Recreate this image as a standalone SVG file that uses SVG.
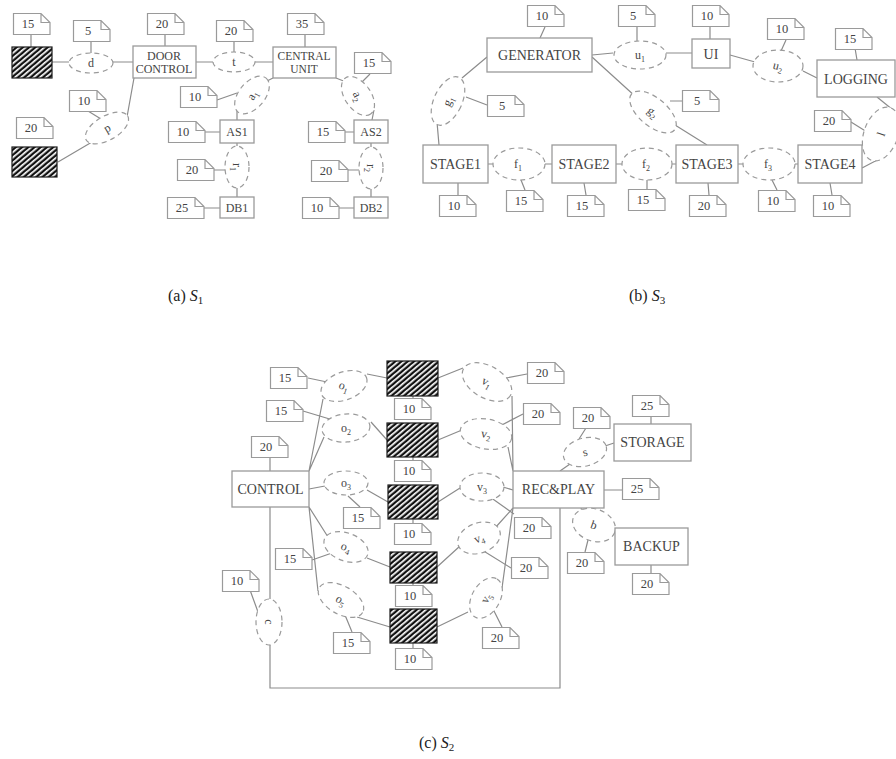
<svg xmlns="http://www.w3.org/2000/svg" width="896" height="759" viewBox="0 0 896 759">
<style>
.box{fill:#fff;stroke:#9a9a9a;stroke-width:1.3}
.hat{fill:url(#hatch);stroke:#1a1a1a;stroke-width:1.2}
.nt{fill:#fff;stroke:#9a9a9a;stroke-width:1.2;stroke-linejoin:miter}
.ell{fill:#fff;stroke:#9a9a9a;stroke-width:1.2;stroke-dasharray:5 4}
.ln{stroke:#8c8c8c;stroke-width:1.2;fill:none}
.t{font-family:"Liberation Serif","Times New Roman",serif;fill:#444;text-anchor:middle}
.n{font-size:12.5px}
.b14{font-size:14px}
.b12{font-size:12px}
.e{font-size:12px}
.cap{font-family:"Liberation Serif","Times New Roman",serif;font-size:16px;fill:#222}
</style>
<defs>
<pattern id="hatch" width="4" height="4" patternUnits="userSpaceOnUse" patternTransform="rotate(-40)">
<rect width="4" height="4" fill="#111"/><rect width="4" height="1.7" fill="#fff"/>
</pattern>
<symbol id="note" width="38" height="22" viewBox="0 0 38 22" overflow="visible">
<path class="nt" d="M0.5 0.5H28L37 9.5V21.5H0.5Z M28 0.5V9.5H37"/>
</symbol>
</defs>
<rect width="896" height="759" fill="#fff"/>

<!-- ================= connectors ================= -->
<g id="connectors" class="ln">
<!-- (a) -->
<path d="M31 34V47 M52 62H69 M113 62H133 M91 41V53 M196 62H213 M255 62H273 M234 41V52 M165 33V46 M305 34V47"/>
<path d="M134 78L127 117 M88 111L101 119 M58 162L92 142"/>
<path d="M273 78L265 82 M217 100L237 93 M237 110V120 M205 132H220 M237 143V146 M214 170H225 M237 188V197 M204 208H220"/>
<path d="M336 78L346 82 M370 74L361 83 M374 110L372 120 M345 132H354 M371 143V147 M348 170H359 M371 189V197 M339 208H354"/>
<!-- (b) -->
<path d="M545 27L540 38 M592 55L613 53 M637 27V41 M710 27V39 M666 53H692 M730 55L755 62 M786 40L781 51 M803 71L817 78 M855 48L857 60"/>
<path d="M487 57L462 78 M466 97L487 105 M437 122L439 145 M592 57L636 97 M670 101L682 101 M675 125L707 145"/>
<path d="M877 97L893 110 M851 122L867 132 M862 168L883 157"/>
<path d="M488 164H493 M545 164H552 M616 164H622 M672 164H676 M738 164H743 M795 164H798"/>
<path d="M458 183V195 M521 180L525 190 M584 183L586 195 M647 180V189 M708 183L709 195 M772 180L777 190 M830 183L832 195"/>
<!-- (c) -->
<path d="M309 471L323 399 M309 471L324 437 M308 378L327 382 M303 411L333 420 M367 374L387 378 M371 422L387 440"/>
<path d="M309 489L325 486 M348 496L360 507 M367 490L388 502 M309 507L328 537 M309 507L318 591 M312 560L332 553 M367 558L390 567"/>
<path d="M345 615L352 632 M357 617L390 627 M270 457V471 M270 507V599 M250 590L258 612 M270 645V688H560V508"/>
<path d="M413 396V398 M413 457V460 M413 519V523 M413 583V585 M413 643V648"/>
<path d="M438 378L463 368 M506 378L527 374 M512 396L513 471 M438 440L462 430 M498 427L523 414 M508 447L513 471"/>
<path d="M438 502L460 488 M503 487L513 490 M490 497L514 514 M437 567L460 546 M495 528L513 508 M482 550L511 568"/>
<path d="M437 627L468 612 M502 588L513 508 M493 609L502 627 M604 490H622"/>
<path d="M560 471L570 464 M605 446L614 443 M586 428L579 439 M651 417V424 M581 508L582 511 M615 531V534 M588 540L585 552 M651 565V573"/>
</g>

<!-- ================= (a) S1 ================= -->
<g id="a_actor1"><rect class="hat" x="12" y="47" width="40" height="31"/></g>
<g id="a_n15"><use href="#note" x="13" y="13"/><text class="t n" x="28" y="28">15</text></g>
<g id="a_d"><ellipse class="ell" cx="91" cy="63" rx="22" ry="10"/><text class="t e" x="91" y="67">d</text></g>
<g id="a_n5"><use href="#note" x="73" y="20"/><text class="t n" x="88" y="35">5</text></g>
<g id="a_door"><rect class="box" x="133" y="46" width="63" height="32"/><text class="t b12" x="164" y="60">DOOR</text><text class="t b12" x="164" y="73">CONTROL</text></g>
<g id="a_n20a"><use href="#note" x="147" y="13"/><text class="t n" x="162" y="28">20</text></g>
<g id="a_t"><ellipse class="ell" cx="234" cy="62" rx="21" ry="10"/><text class="t e" x="234" y="66">t</text></g>
<g id="a_n20b"><use href="#note" x="216" y="20"/><text class="t n" x="231" y="35">20</text></g>
<g id="a_central"><rect class="box" x="273" y="47" width="63" height="31"/><text class="t" style="font-size:11.5px" x="304" y="60">CENTRAL</text><text class="t" style="font-size:11.5px" x="304" y="73">UNIT</text></g>
<g id="a_n35"><use href="#note" x="287" y="13"/><text class="t n" x="302" y="28">35</text></g>
<g id="a_p"><ellipse class="ell" cx="107" cy="128" rx="24" ry="12" transform="rotate(-30 107 128)"/><text class="t e" x="107" y="132" transform="rotate(-30 107 128)">p</text></g>
<g id="a_n10p"><use href="#note" x="69" y="90"/><text class="t n" x="84" y="105">10</text></g>
<g id="a_n20c"><use href="#note" x="16" y="117"/><text class="t n" x="31" y="132">20</text></g>
<g id="a_actor2"><rect class="hat" x="12" y="147" width="45" height="30"/></g>
<g id="a_a1"><ellipse class="ell" cx="252" cy="95" rx="22" ry="13" transform="rotate(-50 252 95)"/><text class="t e" x="252" y="99" transform="rotate(-60 252 95)">a<tspan font-size="8" dy="3">1</tspan></text></g>
<g id="a_n10a1"><use href="#note" x="180" y="86"/><text class="t n" x="195" y="101">10</text></g>
<g id="a_as1"><rect class="box" x="220" y="120" width="34" height="23"/><text class="t b12" x="237" y="136">AS1</text></g>
<g id="a_n10as1"><use href="#note" x="168" y="121"/><text class="t n" x="183" y="136">10</text></g>
<g id="a_r1"><ellipse class="ell" cx="237" cy="167" rx="12" ry="21"/><text class="t e" x="237" y="171" transform="rotate(90 237 167)">r<tspan font-size="8" dy="3">1</tspan></text></g>
<g id="a_n20r1"><use href="#note" x="177" y="159"/><text class="t n" x="192" y="174">20</text></g>
<g id="a_db1"><rect class="box" x="220" y="197" width="34" height="21"/><text class="t b12" x="237" y="212">DB1</text></g>
<g id="a_n25"><use href="#note" x="167" y="197"/><text class="t n" x="182" y="212">25</text></g>
<g id="a_a2"><ellipse class="ell" cx="358" cy="96" rx="22" ry="13" transform="rotate(55 358 96)"/><text class="t e" x="358" y="100" transform="rotate(65 358 96)">a<tspan font-size="8" dy="3">2</tspan></text></g>
<g id="a_n15a2"><use href="#note" x="354" y="52"/><text class="t n" x="369" y="67">15</text></g>
<g id="a_as2"><rect class="box" x="354" y="120" width="34" height="23"/><text class="t b12" x="371" y="136">AS2</text></g>
<g id="a_n15as2"><use href="#note" x="308" y="121"/><text class="t n" x="323" y="136">15</text></g>
<g id="a_r2"><ellipse class="ell" cx="371" cy="168" rx="12" ry="21"/><text class="t e" x="371" y="172" transform="rotate(90 371 168)">r<tspan font-size="8" dy="3">2</tspan></text></g>
<g id="a_n20r2"><use href="#note" x="311" y="160"/><text class="t n" x="326" y="175">20</text></g>
<g id="a_db2"><rect class="box" x="354" y="197" width="34" height="21"/><text class="t b12" x="371" y="212">DB2</text></g>
<g id="a_n10db2"><use href="#note" x="302" y="197"/><text class="t n" x="317" y="212">10</text></g>
<text class="cap" x="168" y="301">(a) <tspan font-style="italic">S</tspan><tspan font-size="11" dy="3">1</tspan></text>

<!-- ================= (b) S3 ================= -->
<g id="b_gen"><rect class="box" x="487" y="38" width="105" height="34"/><text class="t b14" x="539.5" y="60">GENERATOR</text></g>
<g id="b_n10g"><use href="#note" x="527" y="5"/><text class="t n" x="542" y="20">10</text></g>
<g id="b_u1"><ellipse class="ell" cx="640" cy="55" rx="26" ry="14"/><text class="t e" x="640" y="59">u<tspan font-size="8" dy="3">1</tspan></text></g>
<g id="b_n5u"><use href="#note" x="618" y="5"/><text class="t n" x="633" y="20">5</text></g>
<g id="b_ui"><rect class="box" x="692" y="39" width="38" height="29"/><text class="t b14" x="711" y="59">UI</text></g>
<g id="b_n10ui"><use href="#note" x="692" y="5"/><text class="t n" x="707" y="20">10</text></g>
<g id="b_u2"><ellipse class="ell" cx="778" cy="66" rx="25" ry="16"/><text class="t e" x="778" y="70" transform="rotate(15 778 66)">u<tspan font-size="8" dy="3">2</tspan></text></g>
<g id="b_n10u2"><use href="#note" x="767" y="18"/><text class="t n" x="782" y="33">10</text></g>
<g id="b_log"><rect class="box" x="817" y="60" width="78" height="37"/><text class="t b14" x="856" y="84">LOGGING</text></g>
<g id="b_n15l"><use href="#note" x="835" y="28"/><text class="t n" x="850" y="43">15</text></g>
<g id="b_l"><ellipse class="ell" cx="881" cy="134" rx="17" ry="28" transform="rotate(20 881 134)"/><text class="t e" x="881" y="138" transform="rotate(-70 881 134)">l</text></g>
<g id="b_n20l"><use href="#note" x="814" y="110"/><text class="t n" x="829" y="125">20</text></g>
<g id="b_g1"><ellipse class="ell" cx="448" cy="101" rx="14" ry="26" transform="rotate(25 448 101)"/><text class="t e" x="448" y="105" transform="rotate(-65 448 101)">g<tspan font-size="8" dy="3">1</tspan></text></g>
<g id="b_n5g1"><use href="#note" x="487" y="95"/><text class="t n" x="502" y="110">5</text></g>
<g id="b_g2"><ellipse class="ell" cx="653" cy="112" rx="28" ry="14" transform="rotate(40 653 112)"/><text class="t e" x="653" y="116" transform="rotate(40 653 112)">g<tspan font-size="8" dy="3">2</tspan></text></g>
<g id="b_n5g2"><use href="#note" x="682" y="90"/><text class="t n" x="697" y="105">5</text></g>
<g id="b_s1"><rect class="box" x="423" y="145" width="65" height="38"/><text class="t b14" x="455.5" y="169">STAGE1</text></g>
<g id="b_f1"><ellipse class="ell" cx="519" cy="164" rx="26" ry="16"/><text class="t e" x="518" y="168">f<tspan font-size="8" dy="3">1</tspan></text></g>
<g id="b_s2"><rect class="box" x="552" y="145" width="64" height="38"/><text class="t b14" x="584" y="169">STAGE2</text></g>
<g id="b_f2"><ellipse class="ell" cx="647" cy="164" rx="25" ry="16"/><text class="t e" x="646" y="168">f<tspan font-size="8" dy="3">2</tspan></text></g>
<g id="b_s3"><rect class="box" x="676" y="145" width="62" height="38"/><text class="t b14" x="707" y="169">STAGE3</text></g>
<g id="b_f3"><ellipse class="ell" cx="769" cy="164" rx="26" ry="16"/><text class="t e" x="768" y="168">f<tspan font-size="8" dy="3">3</tspan></text></g>
<g id="b_s4"><rect class="box" x="798" y="145" width="64" height="38"/><text class="t b14" x="830" y="169">STAGE4</text></g>
<g id="b_n10s1"><use href="#note" x="439" y="195"/><text class="t n" x="454" y="210">10</text></g>
<g id="b_n15f1"><use href="#note" x="506" y="190"/><text class="t n" x="521" y="205">15</text></g>
<g id="b_n15s2"><use href="#note" x="567" y="195"/><text class="t n" x="582" y="210">15</text></g>
<g id="b_n15f2"><use href="#note" x="628" y="189"/><text class="t n" x="643" y="204">15</text></g>
<g id="b_n20s3"><use href="#note" x="689" y="195"/><text class="t n" x="704" y="210">20</text></g>
<g id="b_n10f3"><use href="#note" x="758" y="190"/><text class="t n" x="773" y="205">10</text></g>
<g id="b_n10s4"><use href="#note" x="813" y="195"/><text class="t n" x="828" y="210">10</text></g>
<text class="cap" x="629" y="301">(b) <tspan font-style="italic">S</tspan><tspan font-size="11" dy="3">3</tspan></text>

<!-- ================= (c) S2 ================= -->
<g id="c_control"><rect class="box" x="232" y="471" width="77" height="36"/><text class="t b14" x="270.5" y="494">CONTROL</text></g>
<g id="c_n20ctl"><use href="#note" x="251" y="436"/><text class="t n" x="266" y="451">20</text></g>
<g id="c_o1"><ellipse class="ell" cx="344" cy="386" rx="24" ry="14" transform="rotate(-20 344 386)"/><text class="t e" x="344" y="390" transform="rotate(20 344 386)">o<tspan font-size="8" dy="3">1</tspan></text></g>
<g id="c_n15o1"><use href="#note" x="270" y="367"/><text class="t n" x="285" y="382">15</text></g>
<g id="c_o2"><ellipse class="ell" cx="346" cy="428" rx="24" ry="14" transform="rotate(-5 346 428)"/><text class="t e" x="346" y="432">o<tspan font-size="8" dy="3">2</tspan></text></g>
<g id="c_n15o2"><use href="#note" x="266" y="400"/><text class="t n" x="281" y="415">15</text></g>
<g id="c_o3"><ellipse class="ell" cx="346" cy="483" rx="22" ry="12"/><text class="t e" x="346" y="487">o<tspan font-size="8" dy="3">3</tspan></text></g>
<g id="c_n15o3"><use href="#note" x="343" y="507"/><text class="t n" x="358" y="522">15</text></g>
<g id="c_o4"><ellipse class="ell" cx="346" cy="547" rx="23" ry="14" transform="rotate(20 346 547)"/><text class="t e" x="346" y="551" transform="rotate(20 346 547)">o<tspan font-size="8" dy="3">4</tspan></text></g>
<g id="c_n15o4"><use href="#note" x="275" y="548"/><text class="t n" x="290" y="563">15</text></g>
<g id="c_o5"><ellipse class="ell" cx="341" cy="600" rx="25" ry="14" transform="rotate(30 341 600)"/><text class="t e" x="341" y="604" transform="rotate(30 341 600)">o<tspan font-size="8" dy="3">5</tspan></text></g>
<g id="c_n15o5"><use href="#note" x="333" y="632"/><text class="t n" x="348" y="647">15</text></g>
<g id="c_c"><ellipse class="ell" cx="269" cy="622" rx="13" ry="23"/><text class="t e" x="269" y="626" transform="rotate(90 269 622)">c</text></g>
<g id="c_n10c"><use href="#note" x="222" y="570"/><text class="t n" x="237" y="585">10</text></g>
<g id="c_cam1"><rect class="hat" x="387" y="361" width="51" height="35"/></g>
<g id="c_n10a"><use href="#note" x="394" y="398"/><text class="t n" x="409" y="413">10</text></g>
<g id="c_cam2"><rect class="hat" x="387" y="423" width="51" height="34"/></g>
<g id="c_n10b"><use href="#note" x="394" y="460"/><text class="t n" x="409" y="475">10</text></g>
<g id="c_cam3"><rect class="hat" x="388" y="485" width="50" height="34"/></g>
<g id="c_n10c3"><use href="#note" x="394" y="523"/><text class="t n" x="409" y="538">10</text></g>
<g id="c_cam4"><rect class="hat" x="390" y="552" width="47" height="31"/></g>
<g id="c_n10d"><use href="#note" x="395" y="585"/><text class="t n" x="410" y="600">10</text></g>
<g id="c_cam5"><rect class="hat" x="390" y="609" width="47" height="34"/></g>
<g id="c_n10e"><use href="#note" x="395" y="648"/><text class="t n" x="410" y="663">10</text></g>
<g id="c_v1"><ellipse class="ell" cx="487" cy="382" rx="27" ry="16" transform="rotate(30 487 382)"/><text class="t e" x="487" y="386" transform="rotate(30 487 382)">v<tspan font-size="8" dy="3">1</tspan></text></g>
<g id="c_n20v1"><use href="#note" x="527" y="362"/><text class="t n" x="542" y="377">20</text></g>
<g id="c_v2"><ellipse class="ell" cx="486" cy="434" rx="26" ry="15" transform="rotate(10 486 434)"/><text class="t e" x="486" y="438" transform="rotate(10 486 434)">v<tspan font-size="8" dy="3">2</tspan></text></g>
<g id="c_n20v2"><use href="#note" x="523" y="403"/><text class="t n" x="538" y="418">20</text></g>
<g id="c_v3"><ellipse class="ell" cx="482" cy="487" rx="22" ry="14"/><text class="t e" x="482" y="491">v<tspan font-size="8" dy="3">3</tspan></text></g>
<g id="c_n20v3"><use href="#note" x="514" y="517"/><text class="t n" x="529" y="532">20</text></g>
<g id="c_v4"><ellipse class="ell" cx="479" cy="538" rx="22" ry="15" transform="rotate(-20 479 538)"/><text class="t e" x="479" y="542" transform="rotate(-20 479 538)">v<tspan font-size="8" dy="3">4</tspan></text></g>
<g id="c_n20v4"><use href="#note" x="511" y="557"/><text class="t n" x="526" y="572">20</text></g>
<g id="c_v5"><ellipse class="ell" cx="486" cy="598" rx="22" ry="14" transform="rotate(-60 486 598)"/><text class="t e" x="486" y="602" transform="rotate(-60 486 598)">v<tspan font-size="8" dy="3">5</tspan></text></g>
<g id="c_n20v5"><use href="#note" x="482" y="627"/><text class="t n" x="497" y="642">20</text></g>
<g id="c_rec"><rect class="box" x="513" y="471" width="91" height="37"/><text class="t b14" x="558.5" y="494">REC&amp;PLAY</text></g>
<g id="c_n25r"><use href="#note" x="622" y="478"/><text class="t n" x="637" y="493">25</text></g>
<g id="c_s"><ellipse class="ell" cx="585" cy="452" rx="22" ry="14" transform="rotate(-15 585 452)"/><text class="t e" x="585" y="456" transform="rotate(-15 585 452)">s</text></g>
<g id="c_n20s"><use href="#note" x="573" y="407"/><text class="t n" x="588" y="422">20</text></g>
<g id="c_storage"><rect class="box" x="614" y="424" width="77" height="37"/><text class="t b14" x="652.5" y="447">STORAGE</text></g>
<g id="c_n25s"><use href="#note" x="632" y="395"/><text class="t n" x="647" y="410">25</text></g>
<g id="c_b"><ellipse class="ell" cx="594" cy="525" rx="22" ry="16" transform="rotate(20 594 525)"/><text class="t e" x="594" y="529" transform="rotate(20 594 525)">b</text></g>
<g id="c_n20b"><use href="#note" x="567" y="552"/><text class="t n" x="582" y="567">20</text></g>
<g id="c_backup"><rect class="box" x="615" y="528" width="73" height="37"/><text class="t b14" x="651.5" y="551">BACKUP</text></g>
<g id="c_n20bk"><use href="#note" x="632" y="573"/><text class="t n" x="647" y="588">20</text></g>
<text class="cap" x="419" y="748">(c) <tspan font-style="italic">S</tspan><tspan font-size="11" dy="3">2</tspan></text>
</svg>
